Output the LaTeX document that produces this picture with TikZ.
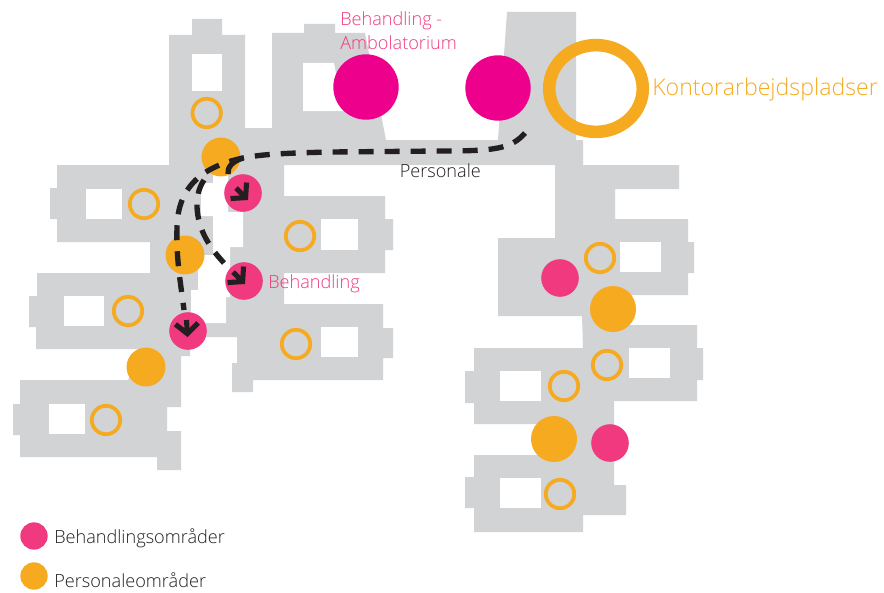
\documentclass[tikz,border=0pt]{standalone}
\usepackage{fontspec}
\usepackage{tikz}
\usetikzlibrary{arrows.meta}
\setmainfont[UprightFont=* Light]{Open Sans}
\definecolor{plangray}{RGB}{209,211,212}
\definecolor{pinkdot}{RGB}{240,57,127}
\definecolor{magentadot}{RGB}{236,0,140}
\definecolor{orangedot}{RGB}{245,170,32}
\definecolor{inkdark}{RGB}{35,31,32}
\tikzset{
  plan/.style={fill=plangray,draw=none},
  window/.style={fill=white,draw=none},
  treat/.style={circle,fill=pinkdot,draw=none,inner sep=0pt,minimum size=28.2pt},
  bigtreat/.style={circle,fill=magentadot,draw=none,inner sep=0pt,minimum size=49pt},
  staff/.style={circle,fill=orangedot,draw=none,inner sep=0pt,minimum size=29.2pt},
  bigstaff/.style={circle,fill=orangedot,draw=none,inner sep=0pt,minimum size=34.5pt},
  desk/.style={circle,draw=orangedot,line width=2.8pt,inner sep=0pt,minimum size=21.3pt},
  legenddot/.style={circle,draw=none,inner sep=0pt,minimum size=20.5pt},
  route/.style={draw=inkdark,line width=4pt,dash pattern={on 11.25pt off 8.25pt}},
  routetip/.style={draw=inkdark,line width=3.8pt,-{Straight Barb[length=7.5pt,width=17pt]}},
  lbl/.style={anchor=west,inner sep=0pt,font=\fontsize{13.6pt}{16pt}\selectfont}
}
\begin{document}
\begin{tikzpicture}[x=0.75pt,y=0.75pt,yscale=-1,xscale=1]
  \useasboundingbox (0,0) rectangle (884,592);

  %Left wing of the plan
  \path [plan] (192,19) -- (222,19) -- (222,35) -- (245,35) -- (245,128) -- (272,128) -- (272,33) -- (304,33) -- (304,24) -- (335,24) -- (335,33) -- (365,33) -- (386,140) -- (498,140) -- (507,12) -- (576,12) -- (576,140) -- (583,140) -- (583,165) -- (284,165) -- (284,196) -- (385,196) -- (385,219) -- (393,219) -- (393,250) -- (385,250) -- (385,273) -- (284,273) -- (284,304) -- (383,304) -- (383,328) -- (393,328) -- (393,358) -- (383,358) -- (383,380) -- (253,380) -- (253,392) -- (232,392) -- (232,363) -- (237,363) -- (237,337) -- (190,337) -- (190,356) -- (181,356) -- (181,407) -- (167,407) -- (167,431) -- (181,431) -- (181,470) -- (157,470) -- (157,457) -- (20,457) -- (20,435) -- (13,435) -- (13,404) -- (20,404) -- (20,380) -- (128,380) -- (143,349) -- (36,349) -- (36,327) -- (29,327) -- (29,296) -- (37,296) -- (37,273) -- (150,273) -- (150,242) -- (57,242) -- (57,219) -- (50,219) -- (50,188) -- (57,188) -- (57,165) -- (169,165) -- (169,35) -- (192,35) -- cycle;
  %Right wing of the plan
  \path [plan] (555,165) -- (679,165) -- (679,189) -- (615,189) -- (615,219) -- (688,219) -- (688,242) -- (694,242) -- (694,273) -- (688,273) -- (688,295) -- (610,295) -- (610,325) -- (697,325) -- (697,348) -- (703,348) -- (703,380) -- (697,380) -- (697,401) -- (614,401) -- (614,485) -- (626,485) -- (626,515) -- (583,515) -- (583,532) -- (474,532) -- (474,508) -- (465,508) -- (465,477) -- (474,477) -- (474,455) -- (540,455) -- (540,424) -- (474,424) -- (474,403) -- (465,403) -- (465,371) -- (474,371) -- (474,348) -- (583,348) -- (582,316) -- (498,316) -- (498,238) -- (555,238) -- cycle;
  %Courtyard cut-outs
  \path [window] (213,175) -- (228,175) -- (228,212) -- (243,212) -- (243,247) -- (230,247) -- (230,297) -- (226,297) -- (226,323) -- (191,323) -- (191,290) -- (198,290) -- (198,255) -- (213,255) -- (213,216) -- (201,216) -- (201,183) -- (213,183) -- cycle;
  %Windows
  \path [window] (192,54) rectangle (222,91);
  \path [window] (86,189) rectangle (122,219);
  \path [window] (321,219) rectangle (358,250);
  \path [window] (64,296) rectangle (104,326);
  \path [window] (49,404) rectangle (85,434);
  \path [window] (321,327) rectangle (358,357);
  \path [window] (303,63) -- (334,63) -- (343,111) -- (303,111) -- cycle;
  \path [window] (620,242) rectangle (661,272);
  \path [window] (629,348) rectangle (670,378);
  \path [window] (500,371) rectangle (541,401);
  \path [window] (500,478) rectangle (541,508);

  %Office ring
  \draw [draw=orangedot,line width=9.4pt] (596,88.5) circle [x radius=46.8,y radius=43.4];

  %Staff rooms
  \node [desk] (deska) at (206.7,113) {};
  \node [desk] (deskb) at (144,204) {};
  \node [desk] (deskc) at (300,236) {};
  \node [desk] (deskd) at (128,311) {};
  \node [desk] (deske) at (296,344) {};
  \node [desk] (deskf) at (106,420) {};
  \node [desk] (deskg) at (600,258) {};
  \node [desk] (deskh) at (607,365) {};
  \node [desk] (deski) at (564,386) {};
  \node [desk] (deskj) at (560,494) {};
  \node [staff] (staffa) at (221,157) {};
  \node [staff] (staffb) at (185,255) {};
  \node [staff] (staffc) at (146,367) {};
  \node [bigstaff] (staffd) at (613,309) {};
  \node [bigstaff] (staffe) at (554,439) {};

  %Treatment rooms
  \node [treat] (treata) at (243,193) {};
  \node [treat] (treatb) at (244,281) {};
  \node [treat] (treatc) at (188,331) {};
  \node [treat] (treatd) at (560,278) {};
  \node [treat] (treate) at (610,443) {};
  \node [bigtreat] (ambua) at (366,87) {};
  \node [bigtreat] (ambub) at (498,88) {};

  %Routes
  \coordinate (routestart) at (525,133);
  \coordinate (fork) at (243,158);
  \coordinate (forkend) at (228,174);
  \coordinate (branch) at (204,180);
  \coordinate (endb) at (224,263);
  \coordinate (endc) at (184,310);
  \draw [route] (routestart) .. controls (511,149) and (495,151) .. (440,151) -- (330,152) .. controls (290,153) and (262,154) .. (fork) .. controls (215,164) and (178,178) .. (177,227) .. controls (176,260) and (181,285) .. (endc);
  \draw [route,dash pattern={}] (fork) .. controls (233,161) and (227,167) .. (forkend);
  \draw [route] (branch) .. controls (198,189) and (197,198) .. (197,207) .. controls (198,230) and (210,248) .. (endb);
  %Arrow heads
  \coordinate (tipa) at (248,200);
  \coordinate (tipb) at (245,284);
  \coordinate (tipc) at (187.5,337);
  \draw [routetip] (236,188) -- (tipa);
  \draw [routetip] (233,272) -- (tipb);
  \draw [routetip] (186.5,320) -- (tipc);

  %Labels
  \node [lbl,text=pinkdot] (lblamba) at (340,21) {Behandling -};
  \node [lbl,text=pinkdot] (lblambb) at (340,43) {Ambolatorium};
  \node [lbl,text=pinkdot] (lbltreat) at (268,284) {Behandling};
  \node [lbl,text=inkdark] (lblstaff) at (399.5,171) {Personale};
  \node [lbl,text=orangedot,font=\fontsize{17.35pt}{20pt}\selectfont] (lbloffice) at (652,89) {Kontorarbejdspladser};

  %Legend
  \node [legenddot,fill=pinkdot] (legtreat) at (34,536) {};
  \node [legenddot,fill=orangedot] (legstaff) at (34,576) {};
  \node [lbl,text=inkdark] (legtreatlbl) at (54,538) {Behandlingsområder};
  \node [lbl,text=inkdark] (legstafflbl) at (54,580) {Personaleområder};
\end{tikzpicture}
\end{document}
